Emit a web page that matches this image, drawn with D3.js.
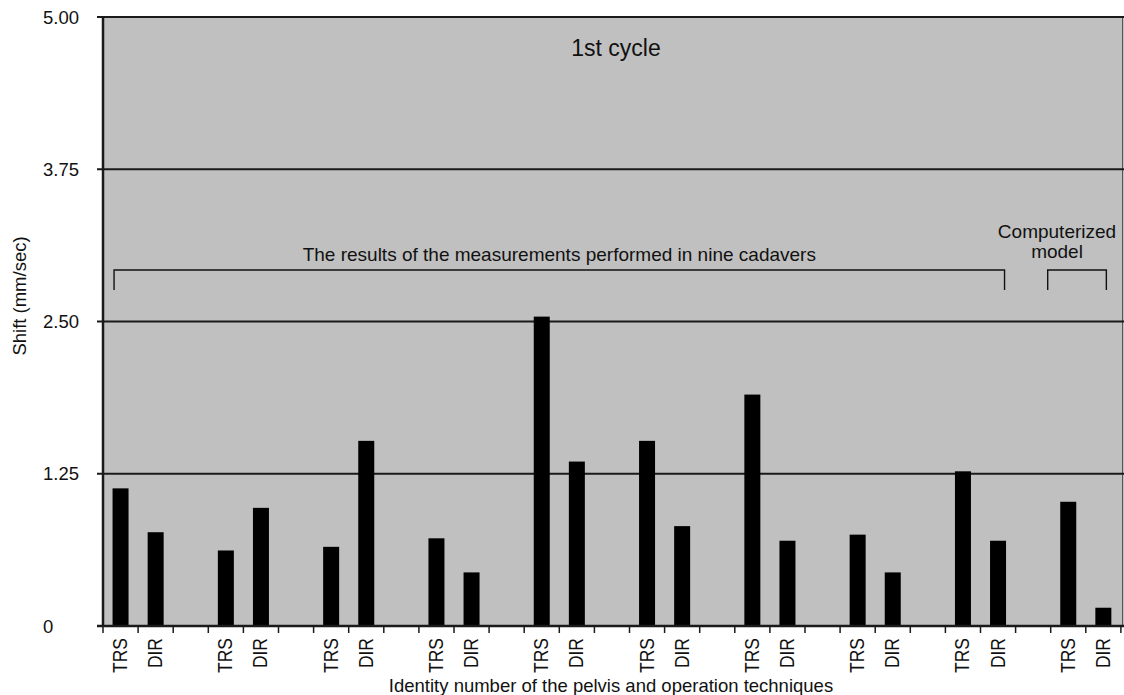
<!DOCTYPE html>
<html>
<head>
<meta charset="utf-8">
<script src="https://cdn.jsdelivr.net/npm/d3@7"></script>
<style>
  body { margin: 0; background: #fff; }
  svg { display: block; font-family: "Liberation Sans", Arial, sans-serif; }
</style>
</head>
<body>
<svg width="1124" height="695"></svg>
<script>
// pelvis id (9 cadavers + computerized model) and technique
const groups = ["1", "2", "3", "4", "5", "6", "7", "8", "9", "model"];
const techniques = ["TRS", "DIR"];
const trsValues = [1.13, 0.62, 0.65, 0.72, 2.54, 1.52, 1.90, 0.75, 1.27, 1.02];
const dirValues = [0.77, 0.97, 1.52, 0.44, 1.35, 0.82, 0.70, 0.44, 0.70, 0.15];
const yTicks = [0, 1.25, 2.5, 3.75, 5];
const yTickLabels = ["0", "1.25", "2.50", "3.75", "5.00"];

// each group takes three slots: TRS, DIR and a blank one
const slots = [];
groups.forEach((g) => {
  slots.push(g + "-TRS", g + "-DIR", g + "-gap");
});
const bars = [];
groups.forEach((g, i) => {
  bars.push({ slot: g + "-TRS", tech: techniques[0], value: trsValues[i] });
  bars.push({ slot: g + "-DIR", tech: techniques[1], value: dirValues[i] });
});

const svg = d3.select("svg");
const plotL = 103, plotT = 17, plotB = 626, plotR = 1124;
const slotW = 35.1;

const x = d3.scaleBand().domain(slots).range([plotL, plotL + slots.length * slotW]);
const y = d3.scaleLinear().domain([0, 5]).range([plotB, plotT]);
const cx = (s) => x(s) + x.bandwidth() / 2;

// plot background
svg.append("rect")
  .attr("x", plotL).attr("y", plotT)
  .attr("width", plotR - plotL).attr("height", plotB - plotT)
  .attr("fill", "#c0c0c0");
svg.append("line")
  .attr("x1", plotR - 1.5).attr("x2", plotR - 1.5)
  .attr("y1", plotT).attr("y2", plotB)
  .attr("stroke", "#555").attr("stroke-width", 1);

// gridlines
svg.append("g")
  .selectAll("line")
  .data(yTicks.slice(1))
  .join("line")
  .attr("x1", plotL - 6).attr("x2", plotR)
  .attr("y1", (d) => y(d)).attr("y2", (d) => y(d))
  .attr("stroke", "#1a1a1a")
  .attr("stroke-width", 2.2);

// bars
const barW = 16;
svg.append("g")
  .selectAll("rect")
  .data(bars)
  .join("rect")
  .attr("x", (d) => cx(d.slot) - barW / 2)
  .attr("y", (d) => y(d.value))
  .attr("width", barW)
  .attr("height", (d) => y(0) - y(d.value))
  .attr("fill", "#000");

// y axis
svg.append("line")
  .attr("x1", plotL).attr("x2", plotL)
  .attr("y1", plotT - 1).attr("y2", plotB + 1)
  .attr("stroke", "#1a1a1a").attr("stroke-width", 2.5);
svg.append("g")
  .selectAll("text")
  .data(yTicks)
  .join("text")
  .attr("x", 43)
  .attr("y", (d) => y(d) + 6.5)
  .attr("font-size", 18.5)
  .attr("fill", "#111")
  .text((d, i) => yTickLabels[i]);

// x axis
svg.append("line")
  .attr("x1", plotL - 6).attr("x2", plotR)
  .attr("y1", plotB).attr("y2", plotB)
  .attr("stroke", "#1a1a1a").attr("stroke-width", 2.5);
svg.append("g")
  .selectAll("line")
  .data(slots)
  .join("line")
  .attr("x1", (d) => x(d)).attr("x2", (d) => x(d))
  .attr("y1", plotB).attr("y2", plotB + 7)
  .attr("stroke", "#1a1a1a").attr("stroke-width", 1.5);
// labels in the source are tall and narrow, so stretch the glyph height a bit
svg.append("g")
  .selectAll("text")
  .data(bars)
  .join("text")
  .attr("transform", (d) => `translate(${cx(d.slot) + 6.5},${plotB + 12}) rotate(-90) scale(1,1.2)`)
  .attr("text-anchor", "end")
  .attr("font-size", 17.5)
  .attr("fill", "#111")
  .text((d) => d.tech);

// axis titles
svg.append("text")
  .attr("x", 611).attr("y", 692)
  .attr("text-anchor", "middle")
  .attr("font-size", 18.5)
  .attr("fill", "#111")
  .text("Identity number of the pelvis and operation techniques");
svg.append("text")
  .attr("transform", "translate(26,296) rotate(-90)")
  .attr("text-anchor", "middle")
  .attr("font-size", 18.5)
  .attr("fill", "#111")
  .text("Shift (mm/sec)");

// annotations
svg.append("text")
  .attr("x", 616).attr("y", 56)
  .attr("text-anchor", "middle")
  .attr("font-size", 23)
  .attr("fill", "#111")
  .text("1st cycle");

const bracket = (x0, x1, yb) => {
  svg.append("path")
    .attr("d", `M${x0},${yb + 20}V${yb}H${x1}V${yb + 20}`)
    .attr("fill", "none")
    .attr("stroke", "#111")
    .attr("stroke-width", 1.4);
};
bracket(cx("1-TRS") - 6.5, cx("9-DIR") + 6.5, 270);
bracket(x("model-TRS") - 3, cx("model-DIR") + 3, 270);

svg.append("text")
  .attr("x", (cx("1-TRS") + cx("9-DIR")) / 2).attr("y", 261)
  .attr("text-anchor", "middle")
  .attr("font-size", 19)
  .attr("fill", "#111")
  .text("The results of the measurements performed in nine cadavers");
svg.append("text")
  .attr("text-anchor", "middle")
  .attr("font-size", 19)
  .attr("fill", "#111")
  .selectAll("tspan")
  .data(["Computerized", "model"])
  .join("tspan")
  .attr("x", 1057)
  .attr("y", (d, i) => 238 + i * 20)
  .text((d) => d);
</script>
</body>
</html>
